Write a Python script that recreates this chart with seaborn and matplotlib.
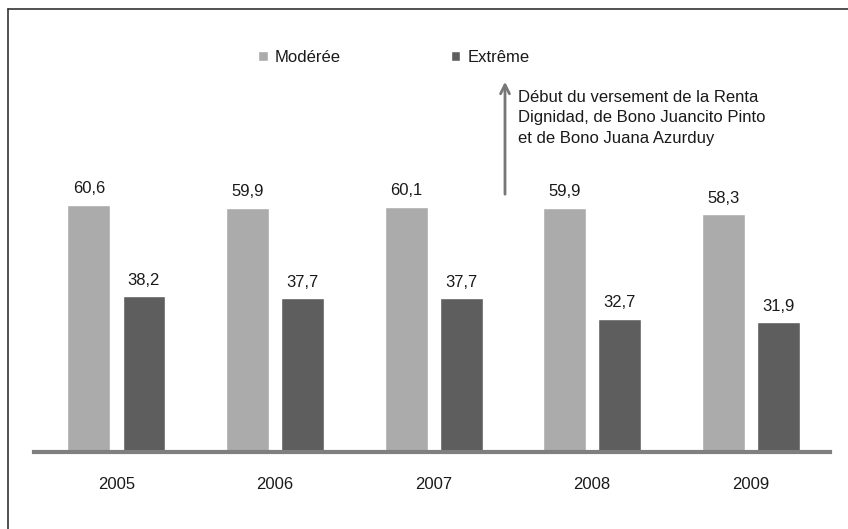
import seaborn as sns
import matplotlib.pyplot as plt
import pandas as pd
from matplotlib.lines import Line2D

# data
years = ["2005", "2006", "2007", "2008", "2009"]
moderee = [60.6, 59.9, 60.1, 59.9, 58.3]
extreme = [38.2, 37.7, 37.7, 32.7, 31.9]
series = ["Modérée", "Extrême"]
note = "Début du versement de la Renta\nDignidad, de Bono Juancito Pinto\net de Bono Juana Azurduy"

df = pd.DataFrame({
    "annee": years * 2,
    "taux": moderee + extreme,
    "type": [series[0]] * len(years) + [series[1]] * len(years),
})

sns.set_style("white")
plt.rcParams["font.family"] = ["Liberation Sans", "DejaVu Sans"]

W, H = 848, 529
fs = 12
fig = plt.figure(figsize=(8.48, 5.29), dpi=100)
ax = fig.add_axes([34 / W, (H - 452) / H, (830 - 34) / W, (452 - 20) / H])

sns.barplot(data=df, x="annee", y="taux", hue="type",
            palette=["#ababab", "#5e5e5e"], width=0.694, gap=0.22,
            saturation=1, ax=ax)

for cont in ax.containers:
    vals = [b.get_height() for b in cont]
    ax.bar_label(cont, labels=[f"{v:.1f}".replace(".", ",") for v in vals],
                 padding=6, fontsize=fs, color="#1a1a1a")

ax.set_xlim(-0.52, 4.5)
ax.set_ylim(0, (452 - 20) / 4.08)
ax.set_yticks([])
ax.set_xlabel("")
ax.set_ylabel("")
for s in ["left", "top", "right"]:
    ax.spines[s].set_visible(False)
ax.spines["bottom"].set_color("#7f7f7f")
ax.spines["bottom"].set_linewidth(3)
ax.tick_params(axis="x", length=0, pad=18, labelsize=fs, colors="#1a1a1a")

# legend
handles, labels = ax.get_legend_handles_labels()
ax.legend(handles, labels, ncol=2, frameon=False, loc="center left",
          bbox_to_anchor=(250 / W, 1 - 57 / H), bbox_transform=fig.transFigure,
          handlelength=0.55, handleheight=0.55, handletextpad=0.45,
          columnspacing=6.6, borderpad=0, fontsize=fs, labelcolor="#1a1a1a")

# arrow + note
ax.annotate("", xy=(505, H - 79), xytext=(505, H - 197),
            xycoords="figure pixels", textcoords="figure pixels",
            arrowprops=dict(arrowstyle="->", color="#777777", lw=2, mutation_scale=16))
fig.text(518 / W, 1 - 90 / H, note, va="top", ha="left", fontsize=fs,
         color="#1a1a1a", linespacing=1.45)

# frame lines (top and left only visible)
fig.add_artist(Line2D([8 / W, 8 / W], [0, 1 - 9 / H], transform=fig.transFigure,
                      color="#333333", lw=1.2))
fig.add_artist(Line2D([8 / W, 1], [1 - 9 / H, 1 - 9 / H], transform=fig.transFigure,
                      color="#333333", lw=1.2))

fig.savefig("out.png", dpi=100)
